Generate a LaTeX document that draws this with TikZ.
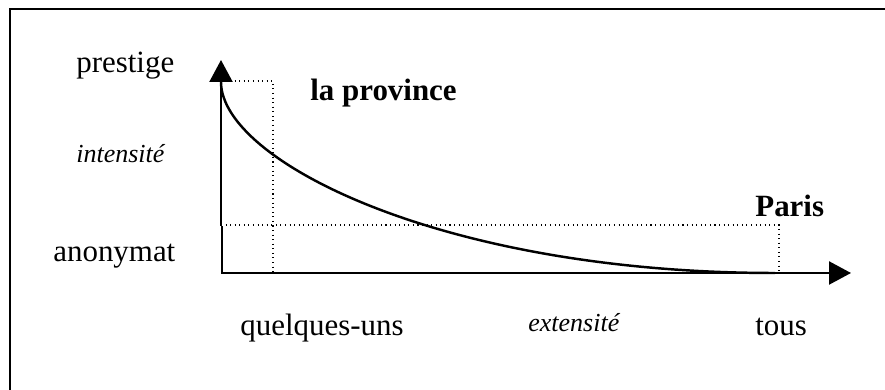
\documentclass[tikz,border=0pt]{standalone}
\usepackage{fontspec}
\setmainfont{Liberation Serif}
\usetikzlibrary{arrows.meta}

\begin{document}
\begin{tikzpicture}[
    axis/.style={line width=1.3pt,-{Triangle[length=0.44cm,width=0.46cm]}},
    guide/.style={dotted,line width=0.6pt},
    lbl/.style={anchor=base west,inner sep=0pt,font=\fontsize{17.6}{20}\selectfont},
    lblit/.style={anchor=base west,inner sep=0pt,font=\fontsize{14.8}{17}\selectfont\itshape}]
    \clip (0,0) rectangle (17.7,7.8);
    \draw[line width=1.4pt] (0.2,-1) rectangle (19,7.62);
    % axes
    \coordinate (O) at (4.42,2.34);
    \coordinate (vbreak) at (4.42,3.28);
    \coordinate (ytip) at (4.42,6.6);
    \coordinate (xtip) at (17.02,2.34);
    \draw[axis] (vbreak) -- (ytip);
    \draw[line width=0.6pt] ([xshift=0.02cm]O) -- ([xshift=0.02cm]vbreak);
    \draw[axis] (O) -- (xtip);
    % dotted guides
    \draw[guide] (4.42,6.18) -- (5.46,6.18) -- (5.46,2.34);
    \draw[guide] (4.42,3.3) -- (15.58,3.3) -- (15.58,2.34);
    % curve
    \draw[line width=1.4pt] (4.42,6.16) .. controls (4.42,4.6) and (8.8,2.34) .. (15.5,2.34);
    % labels
    \node[lbl] (prestige) at (1.52,6.34) {prestige};
    \node[lbl] (province) at (6.2,5.78) {\bfseries la province};
    \node[lblit] (intensite) at (1.52,4.54) {intensité};
    \node[lbl] (anonymat) at (1.06,2.56) {anonymat};
    \node[lbl] (paris) at (15.1,3.46) {\bfseries Paris};
    \node[lbl] (quelques) at (4.8,1.08) {quelques-uns};
    \node[lblit] (extensite) at (10.56,1.16) {extensité};
    \node[lbl] (tous) at (15.1,1.08) {tous};
\end{tikzpicture}
\end{document}
